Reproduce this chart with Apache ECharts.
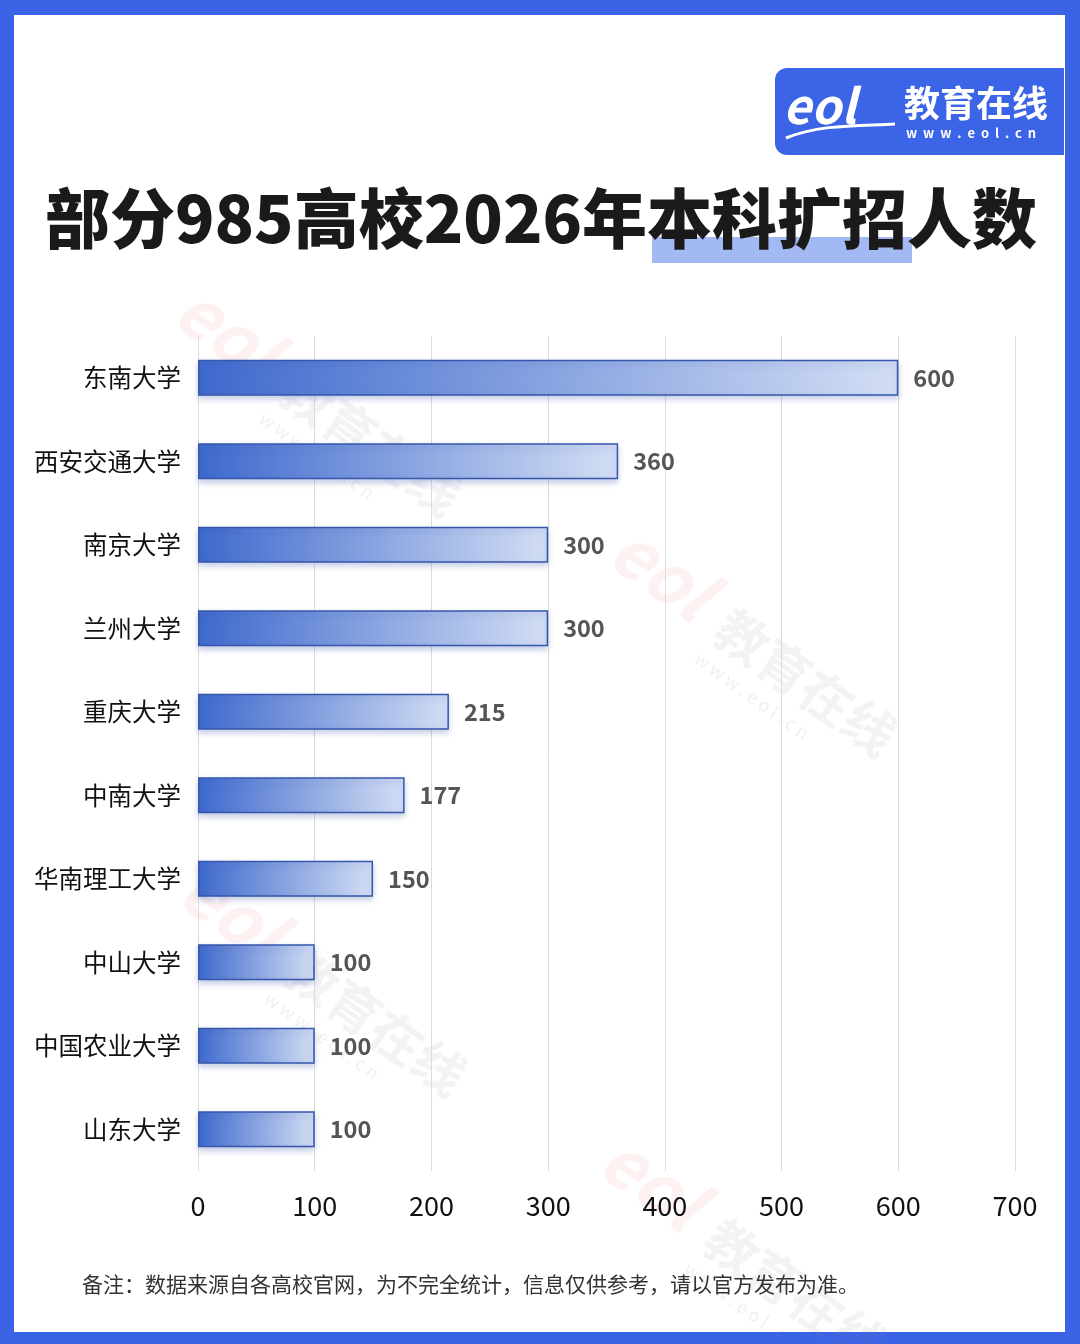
<!DOCTYPE html>
<html>
<head>
<meta charset="utf-8">
<script src="https://cdn.jsdelivr.net/npm/echarts@6/dist/echarts.min.js"></script>
<style>
html,body{margin:0;padding:0;background:#fff;}
#c{width:1080px;height:1344px;}
</style>
</head>
<body>
<div id="c"></div>
<script>
const categories = ['东南大学','西安交通大学','南京大学','兰州大学','重庆大学','中南大学','华南理工大学','中山大学','中国农业大学','山东大学'];
const values = [600, 360, 300, 300, 215, 177, 150, 100, 100, 100];
const xTicks = [0, 100, 200, 300, 400, 500, 600, 700];
const titleText = '部分985高校2026年本科扩招人数';
const noteText = '备注：数据来源自各高校官网，为不完全统计，信息仅供参考，请以官方发布为准。';

const FONT = '"Noto Sans CJK SC", "Noto Sans", sans-serif';

function watermark(x, y) {
  return {
    type: 'group', x: x, y: y, rotation: -0.62, z: 1, silent: true,
    children: [
      { type: 'text', style: { x: 0, y: 0, text: 'eol', font: 'italic bold 70px ' + FONT, fill: 'rgba(230,80,80,0.08)', textVerticalAlign: 'middle' } },
      { type: 'text', style: { x: 130, y: 8, text: '教育在线', font: 'bold 52px ' + FONT, fill: 'rgba(120,120,120,0.09)', textVerticalAlign: 'middle' } },
      { type: 'text', style: { x: 130, y: 50, text: 'w w w . e o l . c n', font: '18px ' + FONT, fill: 'rgba(120,120,120,0.11)', textVerticalAlign: 'middle' } }
    ]
  };
}

const chart = echarts.init(document.getElementById('c'), null, { renderer: 'canvas' });
chart.setOption({
  backgroundColor: '#3b63e6',
  animation: false,
  graphic: [
    { type: 'rect', z: 0, shape: { x: 14, y: 15, width: 1051, height: 1317 }, style: { fill: '#ffffff' } },
    watermark(185, 300),
    watermark(620, 540),
    watermark(190, 880),
    watermark(610, 1150),
    // logo
    { type: 'rect', z: 5, shape: { x: 775, y: 68, width: 289, height: 87, r: [12, 0, 0, 12] }, style: { fill: '#3b64e6' } },
    { type: 'text', z: 6, style: { x: 783, y: 106, text: 'eol', font: 'italic bold 48px ' + FONT, fill: '#ffffff', textVerticalAlign: 'middle' } },
    { type: 'bezierCurve', z: 6, shape: { x1: 786, y1: 138, x2: 895, y2: 124, cpx1: 820, cpy1: 124, cpx2: 860, cpy2: 126 }, style: { stroke: '#ffffff', lineWidth: 3, fill: null } },
    { type: 'text', z: 6, style: { x: 904, y: 103, text: '教育在线', font: 'bold 36px ' + FONT, fill: '#ffffff', textVerticalAlign: 'middle' } },
    { type: 'text', z: 6, style: { x: 906, y: 133, text: 'w  w  w  .  e  o  l  .  c  n', font: 'bold 13px ' + FONT, fill: '#ffffff', textVerticalAlign: 'middle' } },
    // title highlight
    { type: 'rect', z: 5, shape: { x: 652, y: 237, width: 260, height: 26 }, style: { fill: '#a3b9f3' } },
    { type: 'text', z: 6, style: { x: 541, y: 218, text: titleText, font: '900 65px ' + FONT, fill: '#1a1a1a', textAlign: 'center', textVerticalAlign: 'middle' } },
    // note
    { type: 'text', z: 6, style: { x: 82, y: 1284, text: noteText, font: '21px ' + FONT, fill: '#333333', textVerticalAlign: 'middle' } }
  ],
  grid: { left: 198, right: 65, top: 336, bottom: 173, containLabel: false },
  xAxis: {
    type: 'value', min: 0, max: 700, interval: 100,
    axisLine: { show: false }, axisTick: { show: false },
    splitLine: { lineStyle: { color: '#dcdcdc', width: 1 } },
    axisLabel: { fontSize: 27, color: '#111', margin: 21, fontFamily: FONT,
      formatter: function (v) { return xTicks.indexOf(v) >= 0 ? String(v) : ''; } }
  },
  yAxis: {
    type: 'category', data: categories, inverse: true,
    axisLine: { show: false }, axisTick: { show: false },
    axisLabel: { fontSize: 24.5, color: '#111', margin: 17, fontFamily: FONT }
  },
  series: [{
    type: 'bar', data: values, barWidth: 36, z: 3,
    itemStyle: {
      color: new echarts.graphic.LinearGradient(0, 0, 1, 0, [
        { offset: 0, color: '#3e69cd' },
        { offset: 1, color: '#d3def4' }
      ]),
      borderColor: '#3657ab', borderWidth: 1.5,
      shadowColor: 'rgba(50,80,170,0.28)', shadowBlur: 6, shadowOffsetY: 3
    },
    label: { show: true, position: 'right', distance: 15, fontSize: 23.5, fontWeight: 'bold', color: '#555', fontFamily: FONT }
  }]
});
</script>
</body>
</html>
